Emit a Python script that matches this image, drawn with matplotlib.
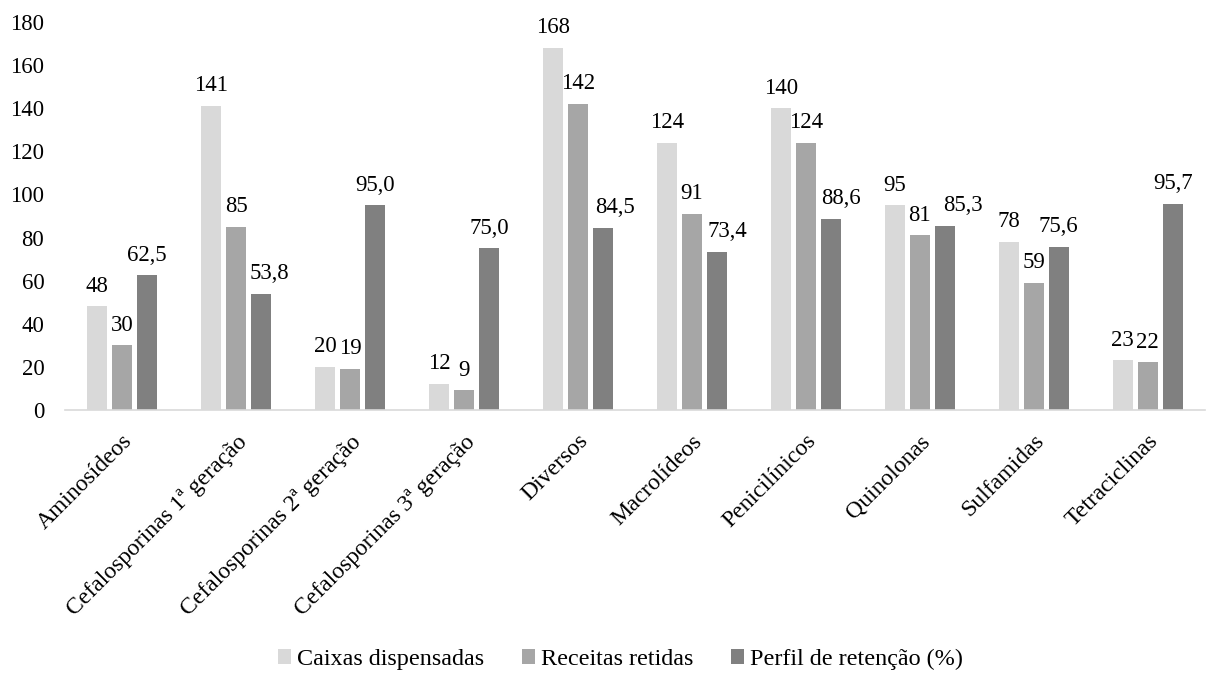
import matplotlib.pyplot as plt
import numpy as np

plt.rcParams['font.family'] = ['Liberation Serif', 'DejaVu Serif']

categories = ["Aminosídeos", "Cefalosporinas 1ª geração", "Cefalosporinas 2ª geração",
              "Cefalosporinas 3ª geração", "Diversos", "Macrolídeos", "Penicilínicos",
              "Quinolonas", "Sulfamidas", "Tetraciclinas"]
caixas = [48, 141, 20, 12, 168, 124, 140, 95, 78, 23]
receitas = [30, 85, 19, 9, 142, 91, 124, 81, 59, 22]
perfil = [62.5, 53.8, 95.0, 75.0, 84.5, 73.4, 88.6, 85.3, 75.6, 95.7]

series = [
    ("Caixas dispensadas", caixas, "#d9d9d9", "{:.0f}"),
    ("Receitas retidas", receitas, "#a6a6a6", "{:.0f}"),
    ("Perfil de retenção (%)", perfil, "#808080", "{:.1f}"),
]

# a few percentage labels were pushed sideways so they don't collide
label_nudge = {(2, 1): 8, (2, 4): 12, (2, 5): 10, (2, 6): 10, (2, 7): 18}

fig = plt.figure(figsize=(12.07, 6.73), dpi=100)
ax = fig.add_axes([0.054, 0.391, 0.944, 0.576])

x = np.arange(len(categories))
width = 0.175
step = 0.22
for i, (name, vals, color, fmt) in enumerate(series):
    pos = x + (i - 1) * step
    bars = ax.bar(pos, vals, width, color=color, label=name)
    for j, (b, v) in enumerate(zip(bars, vals)):
        dx = label_nudge.get((i, j), 0) * 0.72
        ax.annotate(fmt.format(v).replace(".", ","),
                    (b.get_x() + b.get_width() / 2, v),
                    xytext=(dx, 7), textcoords="offset points",
                    ha="center", va="bottom", fontsize=16.4)

ax.set_xlim(-0.5, len(categories) - 0.5)
ax.set_ylim(0, 180)
ax.set_yticks(range(0, 181, 20))
ax.set_xticks(x)
ax.set_xticklabels(categories, rotation=45, ha="right", rotation_mode="anchor",
                   fontsize=17)
ax.tick_params(axis="both", length=0)
ax.tick_params(axis="y", pad=15, labelsize=16.4)
ax.tick_params(axis="x", pad=15)

for s in ["top", "right", "left"]:
    ax.spines[s].set_visible(False)
ax.spines["bottom"].set_color("#d9d9d9")
ax.spines["bottom"].set_linewidth(1.2)

fig.legend(loc="center", bbox_to_anchor=(0.514, 0.02), ncol=3, frameon=False,
           fontsize=17.4, handlelength=0.55, handleheight=0.55, handletextpad=0.25,
           columnspacing=1.55, borderpad=0.1)

fig.savefig("out.png", dpi=100)
